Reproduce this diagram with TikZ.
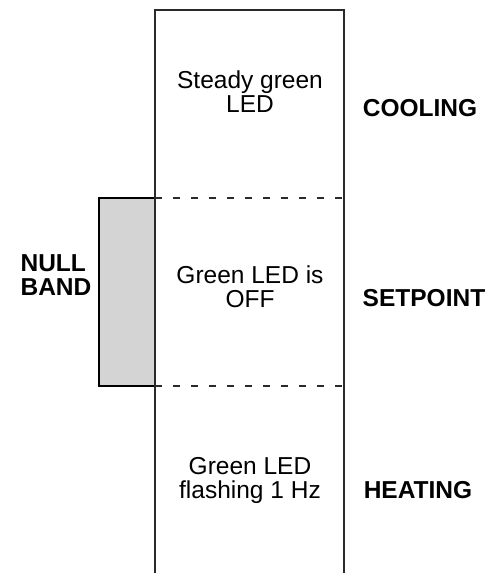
\documentclass[tikz,border=0pt]{standalone}
\usepackage{fontspec}
\setmainfont{Liberation Sans}
\usepackage{xcolor}
\usepackage{tikz}
\usetikzlibrary{positioning}
\definecolor{bandGray}{HTML}{D4D4D4}
\definecolor{lineDark}{HTML}{2A2A2A}

\begin{document}
\begin{tikzpicture}[x=1pt, y=-1pt,
        state/.style={align=center, inner sep=0pt, font=\fontsize{24.5pt}{24pt}\selectfont},
        zone/.style={align=center, inner sep=0pt, font=\fontsize{24.5pt}{24pt}\selectfont\bfseries},
        frameline/.style={draw=lineDark, line width=1.5pt},
        sepline/.style={draw=lineDark, line width=1.3pt, dash pattern=on 7pt off 11pt}]
    \useasboundingbox (0,0) rectangle (489,573);
    % column and band edges
    \coordinate (tl) at (155,10);
    \coordinate (tr) at (344,10);
    \coordinate (bl) at (155,573);
    \coordinate (br) at (344,573);
    \coordinate (hi) at (155,198);
    \coordinate (lo) at (155,386);
    % null band
    \filldraw[fill=bandGray, draw=black, line width=2pt] (99,198) rectangle (155,386);
    \draw[frameline] (bl) -- (tl) -- (tr) -- (br);
    \draw[sepline] (hi) -- (hi -| tr);
    \draw[sepline] (lo) -- (lo -| tr);
    % texts
    \node[state] (cool) at (250,92) {Steady green\\ LED};
    \node[state] (off) at (250,287) {Green LED is\\ OFF};
    \node[state] (heat) at (250,480) {Green LED\\ flashing 1 Hz};
    \node[zone] (coolz) at (420,108) {COOLING};
    \node[zone] (setz) at (424,298) {SETPOINT};
    \node[zone] (heatz) at (418,490) {HEATING};
    \node[zone, align=left] (null) at (56,275) {NULL\\ BAND};
\end{tikzpicture}
\end{document}
